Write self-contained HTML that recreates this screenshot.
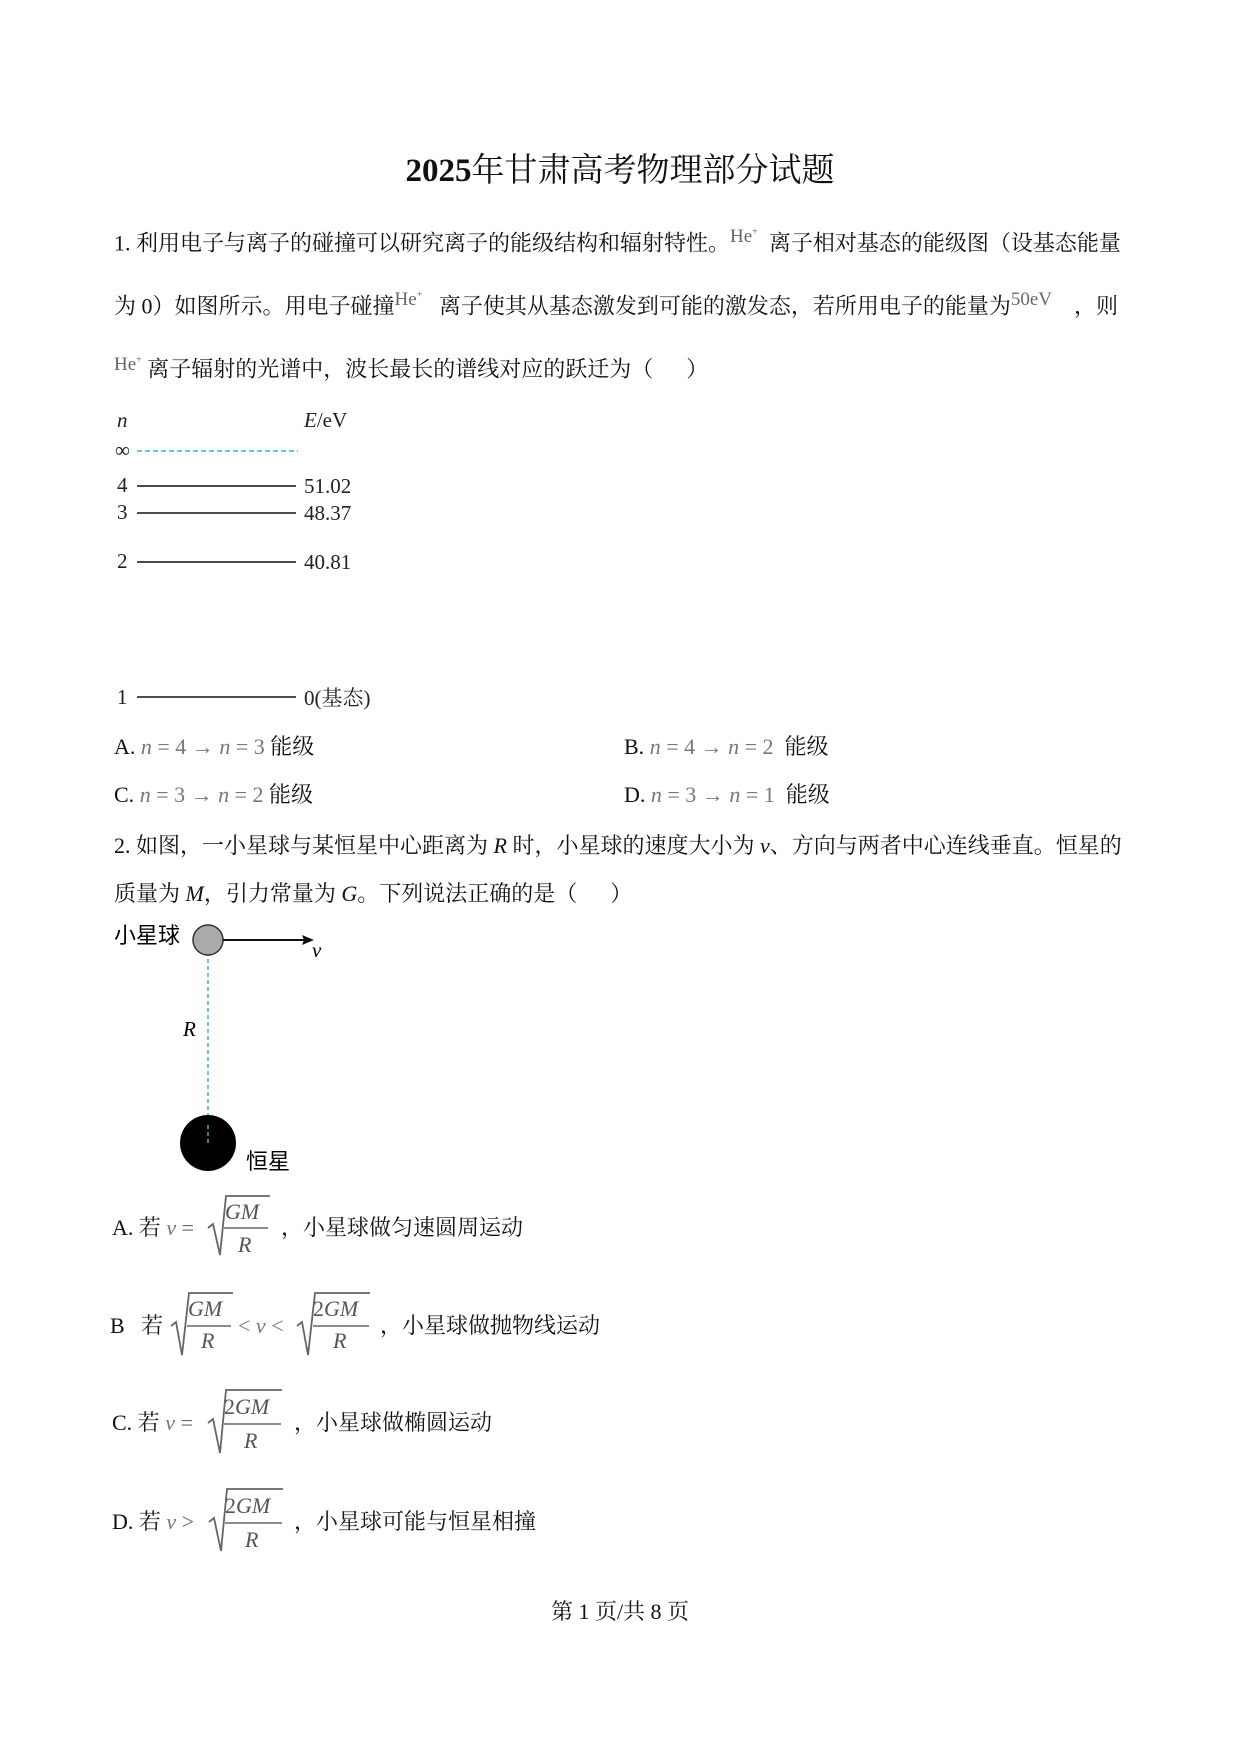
<!DOCTYPE html>
<html><head><meta charset="utf-8"><style>
body{margin:0;background:#fff;}
#p{position:relative;width:1240px;height:1754px;overflow:hidden;font-family:"Liberation Serif","Noto Serif CJK SC",serif;color:#111;}
.t{position:absolute;white-space:nowrap;font-size:22px;line-height:26px;}
.he{font-family:"Liberation Serif",serif;color:#666;font-size:19px;}
.m{color:#777;font-style:italic;}
</style></head><body><div id="p">
<div class="t" style="left:0;width:1240px;text-align:center;top:152px;font-size:33px;line-height:38px;font-weight:bold;">2025<span style="font-weight:normal">年甘肃高考物理部分试题</span></div>

<div class="t" style="left:114px;top:228px;">1. 利用电子与离子的碰撞可以研究离子的能级结构和辐射特性。<span class="he" style="position:relative;top:-8px">He<sup style="font-size:10px">+</sup></span>&nbsp; 离子相对基态的能级图（设基态能量</div>
<div class="t" style="left:114px;top:291px;">为 0）如图所示。用电子碰撞<span class="he" style="position:relative;top:-8px">He<sup style="font-size:10px">+</sup></span>&nbsp;&nbsp; 离子使其从基态激发到可能的激发态，若所用电子的能量为<span class="he" style="position:relative;top:-8px">50eV</span>&nbsp;&nbsp;&nbsp;&nbsp;，则</div>
<div class="t" style="left:114px;top:354px;"><span class="he" style="position:relative;top:-6px">He<sup style="font-size:10px">+</sup></span> 离子辐射的光谱中，波长最长的谱线对应的跃迁为（&nbsp;&nbsp;&nbsp;&nbsp;&nbsp;&nbsp;）</div>

<svg style="position:absolute;left:0;top:0" width="1240" height="1754">
<g font-family="Liberation Serif" font-size="21" fill="#222">
<text x="117" y="427" font-style="italic">n</text>
<text x="304" y="427"><tspan font-style="italic">E</tspan>/eV</text>
<text x="115" y="457">∞</text>
<line x1="137" y1="451" x2="298" y2="451" stroke="#3ab0c8" stroke-width="1.5" stroke-dasharray="5,3"/>
<text x="117" y="492">4</text><line x1="137" y1="486" x2="296" y2="486" stroke="#111" stroke-width="1.5"/><text x="304" y="493">51.02</text>
<text x="117" y="519">3</text><line x1="137" y1="513" x2="296" y2="513" stroke="#111" stroke-width="1.5"/><text x="304" y="520">48.37</text>
<text x="117" y="568">2</text><line x1="137" y1="562" x2="296" y2="562" stroke="#111" stroke-width="1.5"/><text x="304" y="569">40.81</text>
<text x="117" y="704">1</text><line x1="137" y1="697" x2="296" y2="697" stroke="#111" stroke-width="1.5"/><text x="304" y="705">0(<tspan font-family="Noto Serif CJK SC">基态</tspan>)</text>
</g>
<line x1="208" y1="945" x2="208" y2="1143" stroke="#3ab0c8" stroke-width="1.5" stroke-dasharray="4,3"/>
<circle cx="208" cy="1143" r="28" fill="#000"/>
<line x1="208" y1="1125" x2="208" y2="1143" stroke="#3ab0c8" stroke-width="1.5" stroke-dasharray="4,3"/>
<circle cx="208" cy="940" r="15" fill="#aaa" stroke="#333" stroke-width="1.5"/>
<line x1="223" y1="940" x2="308" y2="940" stroke="#111" stroke-width="2"/>
<polygon points="314,940 302,935 304,940 302,945" fill="#111"/>
<text x="312" y="957" font-family="Liberation Serif" font-size="21" font-style="italic">v</text>
<text x="183" y="1036" font-family="Liberation Serif" font-size="21" font-style="italic">R</text>
<text x="114" y="943" font-family="Noto Sans CJK SC" font-size="22">小星球</text>
<text x="246" y="1169" font-family="Noto Sans CJK SC" font-size="22">恒星</text>

<g font-family="Liberation Serif" font-style="italic" fill="#555" font-size="22" stroke="#666">
<path d="M208,1228 L213,1224 L220,1255 L226,1196 L270,1196" fill="none" stroke-width="1.8"/>
<line x1="224" y1="1228" x2="268" y2="1228" stroke-width="1.5"/>
<text x="225" y="1219" stroke="none">GM</text><text x="238" y="1252" stroke="none">R</text>
<path d="M171,1326 L176,1322 L182,1355 L189,1293 L233,1293" fill="none" stroke-width="1.8"/>
<line x1="187" y1="1326" x2="231" y2="1326" stroke-width="1.5"/>
<text x="188" y="1316" stroke="none">GM</text><text x="201" y="1348" stroke="none">R</text>
<path d="M297,1326 L302,1322 L308,1355 L315,1293 L370,1293" fill="none" stroke-width="1.8"/>
<line x1="313" y1="1326" x2="369" y2="1326" stroke-width="1.5"/>
<text x="313" y="1316" stroke="none"><tspan font-style="normal">2</tspan>GM</text><text x="333" y="1348" stroke="none">R</text>
<path d="M208,1423 L213,1419 L220,1453 L226,1390 L282,1390" fill="none" stroke-width="1.8"/>
<line x1="224" y1="1424" x2="281" y2="1424" stroke-width="1.5"/>
<text x="224" y="1414" stroke="none"><tspan font-style="normal">2</tspan>GM</text><text x="244" y="1448" stroke="none">R</text>
<path d="M209,1522 L214,1518 L221,1551 L227,1489 L283,1489" fill="none" stroke-width="1.8"/>
<line x1="225" y1="1523" x2="282" y2="1523" stroke-width="1.5"/>
<text x="225" y="1513" stroke="none"><tspan font-style="normal">2</tspan>GM</text><text x="245" y="1547" stroke="none">R</text>
</g>
</svg>

<div class="t" style="left:114px;top:734px;">A. <span class="m">n</span><span style="color:#777"> = 4 → </span><span class="m">n</span><span style="color:#777"> = 3</span> 能级</div>
<div class="t" style="left:624px;top:734px;">B. <span class="m">n</span><span style="color:#777"> = 4 → </span><span class="m">n</span><span style="color:#777"> = 2</span>&nbsp; 能级</div>
<div class="t" style="left:114px;top:782px;">C. <span class="m">n</span><span style="color:#777"> = 3 → </span><span class="m">n</span><span style="color:#777"> = 2</span> 能级</div>
<div class="t" style="left:624px;top:782px;">D. <span class="m">n</span><span style="color:#777"> = 3 → </span><span class="m">n</span><span style="color:#777"> = 1</span>&nbsp; 能级</div>

<div class="t" style="left:114px;top:833px;">2. 如图，一小星球与某恒星中心距离为 <i>R</i> 时，小星球的速度大小为 <i>v</i>、方向与两者中心连线垂直。恒星的</div>
<div class="t" style="left:114px;top:881px;">质量为 <i>M</i>，引力常量为 <i>G</i>。下列说法正确的是（&nbsp;&nbsp;&nbsp;&nbsp;&nbsp;&nbsp;）</div>

<div class="t" style="left:112px;top:1215px;">A. 若 <span class="m">v</span><span style="color:#666"> =</span></div>
<div class="t" style="left:281px;top:1215px;">，小星球做匀速圆周运动</div>
<div class="t" style="left:110px;top:1313px;">B&nbsp;&nbsp; 若</div>
<div class="t" style="left:238px;top:1313px;color:#777;"><span>&lt;</span> <i>v</i> <span>&lt;</span></div>
<div class="t" style="left:380px;top:1313px;">，小星球做抛物线运动</div>
<div class="t" style="left:112px;top:1410px;">C. 若 <span class="m">v</span><span style="color:#666"> =</span></div>
<div class="t" style="left:294px;top:1410px;">，小星球做椭圆运动</div>
<div class="t" style="left:112px;top:1509px;">D. 若 <span class="m">v</span><span style="color:#666"> &gt;</span></div>
<div class="t" style="left:294px;top:1509px;">，小星球可能与恒星相撞</div>

<div class="t" style="left:0;width:1240px;text-align:center;top:1599px;">第 1 页/共 8 页</div>
</div></body></html>
